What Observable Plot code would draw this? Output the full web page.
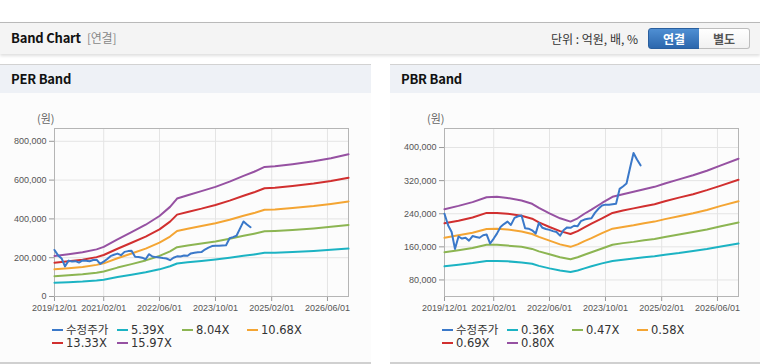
<!DOCTYPE html>
<html>
<head>
<meta charset="utf-8">
<script src="https://cdn.jsdelivr.net/npm/d3@7"></script>
<script src="https://cdn.jsdelivr.net/npm/@observablehq/plot@0.6"></script>
<style>
  html, body { margin: 0; padding: 0; background: #fff; }
  body { width: 760px; height: 364px; position: relative; overflow: hidden;
         font-family: "Noto Sans CJK KR", "Noto Sans", sans-serif; }
  .topbar { position: absolute; left: 0; top: 22px; width: 760px; height: 31px;
            background: #f4f4f4; border-top: 1px solid #b9b9b9;
            box-shadow: 0 2px 3px rgba(0,0,0,0.13); }
  .title { position: absolute; left: 11px; top: 6px; font-size: 13px; font-weight: bold;
           color: #111; letter-spacing: -0.2px; line-height: 18px; }
  .title span { font-weight: normal; color: #888; font-size: 12px; margin-left: 6px; }
  .unitlab { position: absolute; left: 551px; top: 7px; font-size: 12px; color: #333; line-height: 17px; }
  .btn { position: absolute; top: 5px; height: 19px; width: 50px; font-size: 12px; font-weight: bold;
         text-align: center; line-height: 19px; box-sizing: content-box; }
  .btn.on { left: 648px; background: linear-gradient(#4f8fd3, #2c67ad); color: #fff;
            border: 1px solid #2a5f9e; border-radius: 3px 0 0 3px; }
  .btn.off { left: 699px; background: linear-gradient(#ffffff, #f1f1f1); color: #555;
             border: 1px solid #bdbdbd; border-left: none; border-radius: 0 3px 3px 0; }
  .panel { position: absolute; top: 64px; height: 297px; background: #fcfcfc;
           border-top: 1px solid #d2d2d2; border-bottom: 2px solid #d0d0d0; }
  .ph { position: absolute; left: 0; top: 0; right: 0; height: 28px; background: #eef1f6; }
  .ph div { position: absolute; left: 11px; top: 5px; font-size: 13px; font-weight: bold; color: #111; line-height: 18px; letter-spacing: -0.2px; }
  .won { position: absolute; top: 46px; left: 37px; font-size: 11px; color: #666; line-height: 14px; }
  .chart { position: absolute; left: 0; top: 35px; }
  .lg { position: absolute; font-family: "DejaVu Sans", "Noto Sans CJK KR", sans-serif; font-size: 11.5px;
        color: #333; line-height: 13px; white-space: nowrap; }
  .lg i { display: inline-block; width: 11px; height: 2px; vertical-align: middle; margin-right: 3px; position: relative; top: -1px; }
</style>
</head>
<body>
<div class="topbar">
  <div class="title">Band Chart<span>[연결]</span></div>
  <div class="unitlab">단위 : 억원, 배, %</div>
  <div class="btn on">연결</div>
  <div class="btn off">별도</div>
</div>
<div class="panel" id="pPER" style="left:0;width:371px;">
  <div class="ph"><div>PER Band</div></div>
  <div class="won">(원)</div>
  <div class="chart" id="perChart"></div>
</div>
<div class="panel" id="pPBR" style="left:390px;width:370px;">
  <div class="ph"><div>PBR Band</div></div>
  <div class="won">(원)</div>
  <div class="chart" id="pbrChart"></div>
</div>
<script>
// ---------- Data ----------
const seriesColors = ["#3a78c9", "#1cb3c3", "#8cb552", "#f4a533", "#d12f2f", "#9651a2"];
const xTickDates = ["2019-12-01", "2021-02-01", "2022-06-01", "2023-10-01", "2025-02-01", "2026-06-01"];
const xDomain = ["2019-12-01", "2026-12-01"];

const priceName = "수정주가";
const priceDates = [
  "2019-12-01","2020-01-01","2020-02-01","2020-03-01","2020-04-01","2020-05-01","2020-06-01","2020-07-01",
  "2020-08-01","2020-09-01","2020-10-01","2020-11-01","2020-12-01","2021-01-01","2021-02-01","2021-03-01",
  "2021-04-01","2021-05-01","2021-06-01","2021-07-01","2021-08-01","2021-09-01","2021-10-01","2021-11-01",
  "2021-12-01","2022-01-01","2022-02-01","2022-03-01","2022-04-01","2022-05-01","2022-06-01","2022-07-01",
  "2022-08-01","2022-09-01","2022-10-01","2022-11-01","2022-12-01","2023-01-01","2023-02-01","2023-03-01",
  "2023-04-01","2023-05-01","2023-06-01","2023-07-01","2023-08-01","2023-09-01","2023-10-01","2023-11-01",
  "2023-12-01","2024-01-01","2024-02-01","2024-03-01","2024-04-01","2024-05-01","2024-06-01","2024-07-01",
  "2024-08-01"
];
const priceValues = [
  240000,212000,196000,155000,185000,180000,182000,175000,
  186000,184000,182000,188000,190000,168000,180000,192000,
  208000,215000,221000,213000,230000,234000,236000,205000,
  204000,200000,192000,218000,206000,203000,201000,198000,
  196000,187000,200000,207000,206000,211000,210000,222000,
  226000,228000,229000,242000,252000,260000,262000,262000,
  263000,264000,300000,306000,313000,350000,387000,371000,
  357000
];

// PER band
const perNames = ["5.39X", "8.04X", "10.68X", "13.33X", "15.97X"];
const perDates = ["2019-12-01","2020-04-01","2020-08-01","2020-12-01","2021-02-01","2021-06-01","2021-10-01",
  "2022-02-01","2022-06-01","2022-09-01","2022-11-01","2023-02-01","2023-06-01","2023-10-01","2024-02-01",
  "2024-06-01","2024-09-01","2024-12-01","2025-03-01","2025-08-01","2026-02-01","2026-07-01","2026-12-01"];
const per539  = [71,74,77,82,86,100,112,125,140,156,170,176,183,191,200,210,217,225,226,230,235,241,247];
const per804  = [105,110,115,122,129,149,167,186,209,233,254,263,273,284,298,313,324,336,338,343,351,359,369];
const per1068 = [140,146,152,163,171,197,222,247,278,309,338,349,363,378,396,416,430,447,449,456,466,477,490];
const per1333 = [174,182,190,203,214,246,277,309,346,386,422,436,453,472,494,519,537,558,560,569,582,595,612];
const per1597 = [209,218,228,243,256,295,332,370,415,462,505,522,543,565,592,622,643,668,671,682,697,713,733];
const perYTicks = [0, 200000, 400000, 600000, 800000];
const perYDomain = [0, 866000];

// PBR band
const pbrNames = ["0.36X", "0.47X", "0.58X", "0.69X", "0.80X"];
const pbrDates = ["2019-12-01","2020-04-01","2020-08-01","2020-12-01","2021-03-01","2021-06-01","2021-10-01",
  "2022-01-01","2022-03-01","2022-06-01","2022-09-01","2022-12-01","2023-02-01","2023-04-01","2023-06-01",
  "2023-09-01","2023-12-01","2024-03-01","2024-06-01","2024-09-01","2024-12-01","2025-03-01","2025-07-01",
  "2025-11-01","2026-03-01","2026-07-01","2026-12-01"];
const pbr036 = [113,117,121,126,126,125,122,119,114,108,103,99,103,108,113,120,126,129,132,135,137,141,145,150,155,161,168];
const pbr047 = [147,152,157,165,165,163,160,155,149,142,135,130,135,141,147,156,165,169,172,176,179,184,190,196,202,210,219];
const pbr058 = [182,188,194,203,204,202,197,191,184,175,166,160,166,174,181,193,204,208,212,217,221,227,234,241,249,259,270];
const pbr069 = [217,223,231,242,242,240,235,228,219,208,198,191,198,207,216,229,242,248,253,258,263,270,279,287,297,308,322];
const pbr080 = [251,259,268,280,281,278,272,264,254,241,229,221,229,240,250,266,281,287,293,299,305,313,323,333,344,357,373];
const pbrYTicks = [80000, 160000, 240000, 320000, 400000];
const pbrYDomain = [40000, 446000];

// ---------- Build ----------
const parse = d3.utcParse("%Y-%m-%d");
const priceRows = priceDates.map((d, i) => ({date: parse(d), value: priceValues[i]}));

function bandRows(dates, arrays, names) {
  const rows = [];
  arrays.forEach((arr, k) => {
    arr.forEach((v, i) => rows.push({date: parse(dates[i]), value: v * 1000, name: names[k], k}));
  });
  return rows;
}

function makeChart(rows, names, yDomain, yTicks, width) {
  const marks = [
    Plot.gridY(yTicks, {stroke: "#e4e4e4", strokeOpacity: 1}),
    Plot.gridX(xTickDates.map(parse), {stroke: "#e4e4e4", strokeOpacity: 1}),
    Plot.axisY(yTicks, {tickSize: 5, tickPadding: 3, stroke: "#999", fill: "#555", tickFormat: d3.format(","), label: null}),
    Plot.axisX(xTickDates.map(parse), {tickSize: 5, tickPadding: 3, stroke: "#999", fill: "#555", tickFormat: d3.utcFormat("%Y/%m/%d"), label: null}),
    Plot.frame({stroke: "#b5b5b5"})
  ];
  names.forEach((n, k) => {
    marks.push(Plot.line(rows.filter(r => r.k === k), {x: "date", y: "value", stroke: seriesColors[k + 1], strokeWidth: 2}));
  });
  marks.push(Plot.line(priceRows, {x: "date", y: "value", stroke: seriesColors[0], strokeWidth: 2}));
  return Plot.plot({
    width, height: 220,
    marginLeft: 54, marginRight: width - 348, marginTop: 28, marginBottom: 24,
    style: {fontFamily: "'Liberation Sans', Arial, sans-serif", fontSize: "9px", background: "transparent", overflow: "visible"},
    x: {type: "utc", domain: xDomain.map(parse)},
    y: {domain: yDomain},
    marks
  });
}

function makeLegend(panel, names) {
  const all = [priceName, ...names];
  all.forEach((n, i) => {
    const col = i % 4, row = Math.floor(i / 4);
    const el = document.createElement("div");
    el.className = "lg";
    el.style.left = (52 + col * 65) + "px";
    el.style.top = (259 + row * 13) + "px";
    el.innerHTML = `<i style="background:${seriesColors[i]}"></i>${n}`;
    panel.appendChild(el);
  });
}

document.getElementById("perChart").appendChild(
  makeChart(bandRows(perDates, [per539, per804, per1068, per1333, per1597], perNames), perNames, perYDomain, perYTicks, 371));
document.getElementById("pbrChart").appendChild(
  makeChart(bandRows(pbrDates, [pbr036, pbr047, pbr058, pbr069, pbr080], pbrNames), pbrNames, pbrYDomain, pbrYTicks, 370));
makeLegend(document.getElementById("pPER"), perNames);
makeLegend(document.getElementById("pPBR"), pbrNames);
</script>
</body>
</html>
